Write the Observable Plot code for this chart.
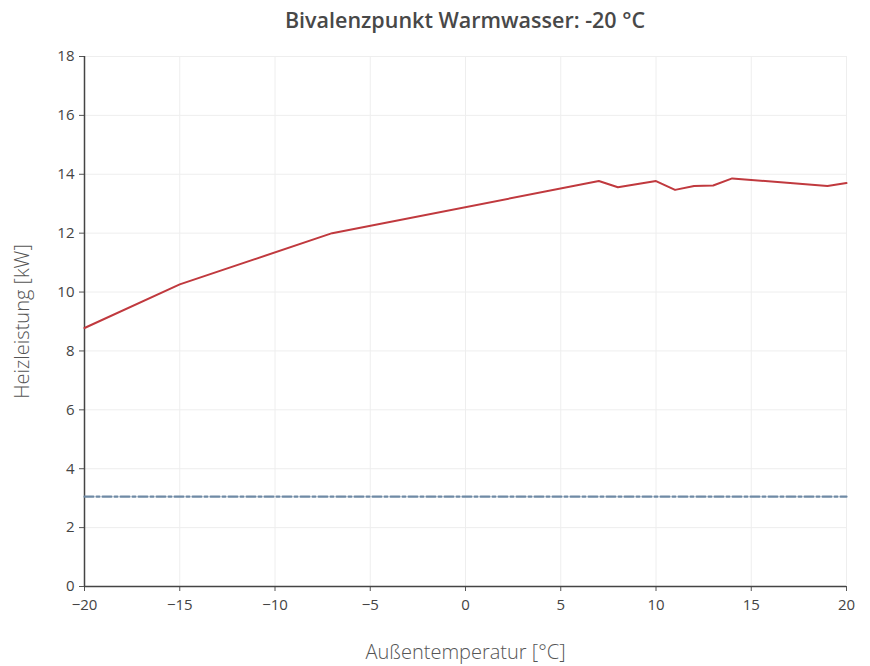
<!DOCTYPE html>
<html>
<head>
<meta charset="utf-8">
<script src="https://cdn.jsdelivr.net/npm/d3@7"></script>
<script src="https://cdn.jsdelivr.net/npm/@observablehq/plot@0.6"></script>
<style>
  html, body { margin: 0; padding: 0; background: #fff; }
  #title { height: 40px; line-height: 40px; text-align: center; padding-left: 60px; font-family: "Open Sans", sans-serif; font-size: 21.5px; font-weight: 600; color: #484848; }
</style>
</head>
<body>
<div id="title"></div>
<div id="chart"></div>
<script>
const title = "Bivalenzpunkt Warmwasser: -20 °C";
const xLabel = "Außentemperatur [°C]";
const yLabel = "Heizleistung [kW]";
const temps = [-20, -15, -7, 7, 8, 10, 11, 12, 13, 14, 19, 20];
const power = [8.78, 10.26, 12.0, 13.77, 13.56, 13.77, 13.47, 13.6, 13.62, 13.86, 13.6, 13.7];
const warmwasserX = [-20, 20];
const warmwasserY = [3.05, 3.05];
const xTicks = [-20, -15, -10, -5, 0, 5, 10, 15, 20];
const yTicks = [0, 2, 4, 6, 8, 10, 12, 14, 16, 18];

document.getElementById("title").textContent = title;

const lineData = temps.map((t, i) => ({x: t, y: power[i]}));
const wwData = warmwasserX.map((t, i) => ({x: t, y: warmwasserY[i]}));

const chart = Plot.plot({
  width: 870,
  height: 626,
  marginTop: 16,
  marginLeft: 84,
  marginRight: 24,
  marginBottom: 80,
  style: {fontFamily: "'Open Sans', sans-serif", fontSize: "15px", color: "#444", background: "#fff"},
  x: {domain: [-20, 20]},
  y: {domain: [0, 18]},
  marks: [
    Plot.gridX(xTicks, {stroke: "#eee", strokeOpacity: 1, strokeWidth: 1}),
    Plot.gridY(yTicks, {stroke: "#eee", strokeOpacity: 1, strokeWidth: 1}),
    Plot.axisX(xTicks, {tickSize: 5, tickPadding: 8, stroke: "#555", fill: "#444", fontSize: 15, label: null}),
    Plot.axisY(yTicks, {tickSize: 5, tickPadding: 5, stroke: "#555", fill: "#444", fontSize: 15, label: null}),
    Plot.ruleY([0], {stroke: "#444", strokeWidth: 1.5}),
    Plot.ruleX([-20], {stroke: "#444", strokeWidth: 1.5}),
    Plot.line(wwData, {x: "x", y: "y", stroke: "#6f8aa5", strokeWidth: 2.2, strokeDasharray: "9,3,3,3"}),
    Plot.line(lineData, {x: "x", y: "y", stroke: "#c0393e", strokeWidth: 2}),
    Plot.text([xLabel], {frameAnchor: "bottom", dy: 66, fontSize: 20, fontWeight: 300, fill: "#555", lineAnchor: "middle"}),
    Plot.text([yLabel], {frameAnchor: "left", dx: -62, rotate: -90, fontSize: 20, fontWeight: 300, fill: "#555", lineAnchor: "middle", textAnchor: "middle"})
  ]
});
document.getElementById("chart").appendChild(chart);
</script>
</body>
</html>
